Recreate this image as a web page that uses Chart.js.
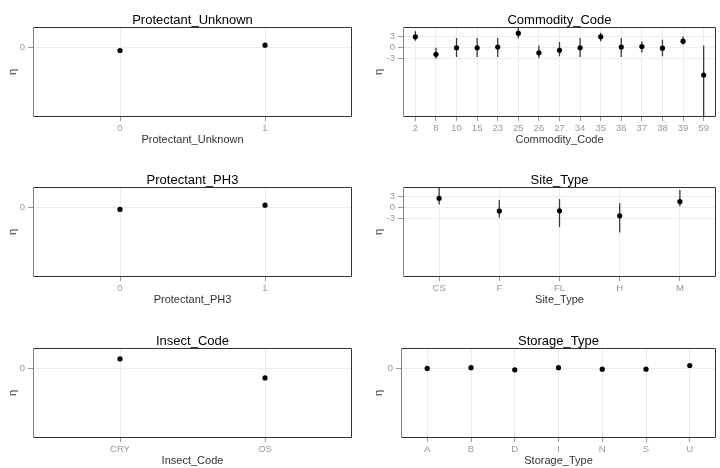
<!DOCTYPE html>
<html><head><meta charset="utf-8">
<script src="https://cdn.jsdelivr.net/npm/chart.js@4.4.1/dist/chart.umd.min.js"></script>
<style>
html,body{margin:0;padding:0;background:#fff;}
#wrap{position:relative;width:720px;height:468px;overflow:hidden;background:#fff;}
canvas{position:absolute;}
</style></head><body>
<div id="wrap">
<canvas id="c1" width="360" height="147" style="left:0px;top:0px"></canvas>
<canvas id="c2" width="360" height="147" style="left:360px;top:0px"></canvas>
<canvas id="c3" width="360" height="147" style="left:0px;top:160px"></canvas>
<canvas id="c4" width="360" height="147" style="left:360px;top:160px"></canvas>
<canvas id="c5" width="360" height="147" style="left:0px;top:321px"></canvas>
<canvas id="c6" width="360" height="147" style="left:360px;top:321px"></canvas>
</div>
<script>
// ---- data ----
const protUnkCats = ['0', '1'];
const protUnkEta = [-0.75, 0.7];

const protPH3Cats = ['0', '1'];
const protPH3Eta = [-0.45, 0.7];

const insectCats = ['CRY', 'OS'];
const insectEta = [2.7, -2.5];

const commodityCats = ['2','8','10','15','23','25','26','27','34','35','36','37','38','39','59'];
const commodityEta = [3.0, -1.8, 0, 0, 0.2, 4.0, -1.4, -0.7, 0, 3.0, 0.2, 0.35, -0.1, 1.8, -7.5];
const commodityLo  = [1.9, -3.0, -2.5, -2.5, -2.5, 2.6, -2.8, -2.3, -2.5, 1.8, -2.5, -1.3, -2.3, 0.8, -22];
const commodityHi  = [4.5, 0.0, 2.7, 2.7, 2.7, 6.0, 0.6, 1.6, 2.7, 4.1, 2.7, 1.7, 2.2, 3.1, 0.6];

const siteCats = ['CS', 'F', 'FL', 'H', 'M'];
const siteEta = [2.6, -0.9, -0.85, -2.2, 1.7];
const siteLo  = [0.9, -2.7, -5.3, -6.8, 0.4];
const siteHi  = [6.5, 2.1, 2.4, 1.25, 4.9];

const storageCats = ['A', 'B', 'D', 'I', 'N', 'S', 'U'];
const storageEta = [0.1, 0.3, -0.3, 0.3, -0.1, -0.1, 0.9];

const yTicksSingle = [0];
const yTicksTriple = [-3, 0, 3];
const yMin = -19, yMax = 5.7;
const yLabel = 'η';

// ---- drawing ----
const FONT = "'Liberation Sans', Arial, sans-serif";
Chart.defaults.font.family = FONT;

const panelBorder = {
  id: 'panelBorder',
  afterDraw(chart) {
    const a = chart.chartArea, ctx = chart.ctx;
    const l = Math.round(a.left) + 0.5, r = Math.round(a.right) - 0.5;
    const t = Math.round(a.top) + 0.5, b = Math.round(a.bottom) - 0.5;
    ctx.save();
    ctx.lineWidth = 1;
    ctx.strokeStyle = '#333';
    ctx.beginPath();
    ctx.moveTo(l, t); ctx.lineTo(r, t); ctx.lineTo(r, b); ctx.lineTo(l, b);
    ctx.stroke();
    ctx.strokeStyle = '#808080';
    ctx.beginPath();
    ctx.moveTo(l, t); ctx.lineTo(l, b);
    ctx.stroke();
    ctx.restore();
  }
};

function makePanel(id, title, cats, eta, lo, hi, yTicks, yAxisWidth, padRight, etaPad) {
  const datasets = [{
    type: 'scatter',
    data: eta.map((v, i) => ({x: i, y: v})),
    pointRadius: 2.6,
    pointBorderWidth: 0,
    pointBackgroundColor: '#000',
    order: 0
  }];
  if (lo && hi) {
    const bars = [];
    cats.forEach((c, i) => {
      bars.push({x: i, y: lo[i]}, {x: i, y: hi[i]}, {x: i, y: null});
    });
    datasets.push({
      type: 'line',
      data: bars,
      showLine: true,
      spanGaps: false,
      borderColor: '#3a3a3a',
      borderWidth: 1.3,
      pointRadius: 0,
      order: 1
    });
  }
  return new Chart(document.getElementById(id), {
    type: 'scatter',
    data: {datasets},
    plugins: [panelBorder],
    options: {
      responsive: false,
      animation: false,
      events: [],
      layout: {padding: {top: 14, right: padRight, bottom: 0, left: 0}},
      plugins: {
        legend: {display: false},
        tooltip: {enabled: false},
        title: {
          display: true, text: title, fullSize: false, align: 'center',
          color: '#000', font: {size: 13, weight: 'normal', family: FONT, lineHeight: 1.0}, padding: 0
        }
      },
      scales: {
        x: {
          type: 'linear', min: -0.6, max: cats.length - 1 + 0.6,
          afterBuildTicks: s => { s.ticks = cats.map((c, i) => ({value: i})); },
          afterFit: s => { s.height = 30; },
          ticks: {
            callback: v => cats[v], color: '#999', font: {size: 9.5}, padding: 2,
            autoSkip: false, maxRotation: 0, minRotation: 0
          },
          grid: {color: '#ececec', tickColor: '#999', tickLength: 4, lineWidth: 1},
          border: {display: false},
          title: {display: true, text: title, color: '#333', font: {size: 11}, padding: {top: 0, bottom: 0}}
        },
        y: {
          type: 'linear', min: yMin, max: yMax,
          afterBuildTicks: s => { s.ticks = yTicks.map(v => ({value: v})); },
          afterFit: s => { s.width = yAxisWidth; },
          ticks: {callback: v => String(v), color: '#999', font: {size: 9.5}, padding: 3},
          grid: {color: '#ececec', tickColor: '#999', tickLength: 5, lineWidth: 1},
          border: {display: false},
          title: {display: true, text: yLabel, color: '#333', font: {size: 11}, padding: {top: etaPad, bottom: 0}}
        }
      }
    }
  });
}

makePanel('c1', 'Protectant_Unknown', protUnkCats, protUnkEta, null, null, yTicksSingle, 33, 8, 6);
makePanel('c2', 'Commodity_Code', commodityCats, commodityEta, commodityLo, commodityHi, yTicksTriple, 43, 1, 12);
makePanel('c3', 'Protectant_PH3', protPH3Cats, protPH3Eta, null, null, yTicksSingle, 33, 8, 6);
makePanel('c4', 'Site_Type', siteCats, siteEta, siteLo, siteHi, yTicksTriple, 43, 1, 12);
makePanel('c5', 'Insect_Code', insectCats, insectEta, null, null, yTicksSingle, 33, 8, 6);
makePanel('c6', 'Storage_Type', storageCats, storageEta, null, null, yTicksSingle, 41, 1, 12);
</script>
</body></html>
